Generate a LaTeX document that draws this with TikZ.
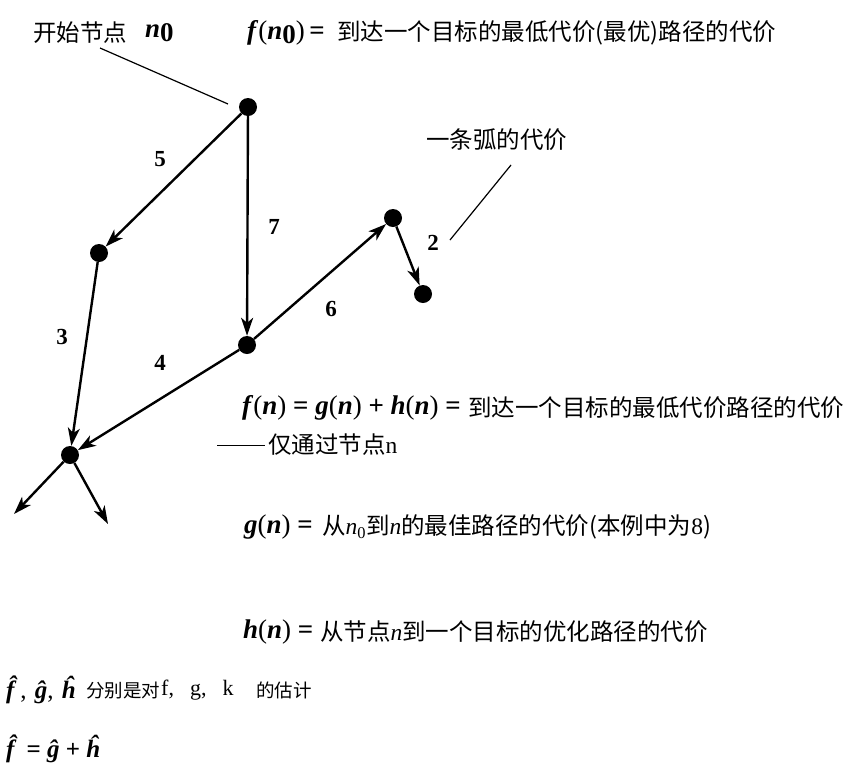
\documentclass[tikz,border=0pt]{standalone}
\usepackage{fontspec}
\setmainfont{Liberation Serif}
\newfontfamily\cjk{Noto Sans CJK SC}
\usetikzlibrary{arrows.meta}
\newcommand{\mi}[1]{\textbf{\textit{#1}}}
\tikzset{
  dot/.style={circle,fill=black,inner sep=0pt,minimum size=18pt},
  edge/.style={line width=2.4pt,-{Stealth[length=18pt,width=12pt,inset=5pt]}},
  plain/.style={line width=1.2pt},
  txt/.style={anchor=west,inner sep=0pt,font=\fontsize{23.5}{26}\selectfont\cjk},
  small/.style={anchor=west,inner sep=0pt,font=\fontsize{18.5}{20}\selectfont\cjk},
  mth/.style={anchor=west,inner sep=0pt,font=\fontsize{27}{28}\selectfont\rmfamily},
  num/.style={inner sep=0pt,font=\fontsize{23}{24}\selectfont\bfseries}
}
\begin{document}
\begin{tikzpicture}[x=1pt,y=-1pt]
\useasboundingbox[fill=white] (0,0) rectangle (862,769);
% nodes
\node[dot] (n0) at (248,107) {};
\node[dot] (a) at (99,253) {};
\node[dot] (b) at (247,345) {};
\node[dot] (c) at (393,218) {};
\node[dot] (d) at (423,294) {};
\node[dot] (n) at (70,455) {};
\coordinate (e1) at (14,514);
\coordinate (e2) at (108,524);
% edges
\draw[edge] (n0) -- (a);
\draw[edge] (n0) -- (b);
\draw[edge] (a) -- (n);
\draw[edge] (b) -- (n);
\draw[edge] (b) -- (c);
\draw[edge] (c) -- (d);
\draw[edge] (n) -- (e1);
\draw[edge] (n) -- (e2);
% edge labels
\node[num] (l5) at (160,159) {5};
\node[num] (l7) at (274,227) {7};
\node[num] (l3) at (62,337) {3};
\node[num] (l4) at (160,363) {4};
\node[num] (l6) at (331,309) {6};
\node[num] (l2) at (433,243) {2};
% start node label
\node[txt] (start) at (33,33) {开始节点};
\node[mth] (n0lab) at (145,33) {\mi{n}\raisebox{-4pt}{\textbf{0}}};
\coordinate (p1) at (100,48);
\coordinate (p2) at (228,104);
\draw[plain] (p1) -- (p2);
% top formula
\node[mth] (fn0m) at (247,33) {\mi{f}(\mi{n}\raisebox{-4pt}{\textbf{0}})\,\textbf{=}};
\node[txt] (fn0t) at (337,33) {到达一个目标的最低代价(最优)路径的代价};
% arc cost
\node[txt] (arc) at (426,140) {一条弧的代价};
\coordinate (q1) at (511,165);
\coordinate (q2) at (450,240);
\draw[plain] (q1) -- (q2);
% f(n)
\node[mth] (fnm) at (242,408) {\mi{f}(\mi{n}) \textbf{=} \mi{g}(\mi{n}) \textbf{+} \mi{h}(\mi{n}) \textbf{=}};
\node[txt] (fnt) at (468,408) {到达一个目标的最低代价路径的代价};
\coordinate (r1) at (217,445);
\coordinate (r2) at (265,445);
\draw[line width=1pt] (r1) -- (r2);
\node[txt] (only) at (268,445) {仅通过节点\rmfamily n};
% g(n)
\node[mth] (gnm) at (244,527) {\mi{g}(\mi{n}) \textbf{=}};
\node[txt] (gnt) at (322,527) {从\rmfamily\textit{n}\textsubscript{0}\cjk 到\rmfamily\textit{n}\cjk 的最佳路径的代价(本例中为\rmfamily 8\cjk )};
% h(n)
\node[mth] (hnm) at (243,632) {\mi{h}(\mi{n}) \textbf{=}};
\node[txt] (hnt) at (320,632) {从节点\rmfamily\textit{n}\cjk 到一个目标的优化路径的代价};
% estimates
\node[mth] (estm) at (6,690) {\fontsize{25}{26}\selectfont\mi{\^{f}},\,\,\mi{\^{g}},\,\,\mi{\^{h}}};
\node[small] (estt1) at (86,690) {分别是对};
\node[mth] (estt2) at (161,690) {\fontsize{22}{24}\selectfont f,\hspace{16pt}g,\hspace{16pt}k};
\node[small] (estt3) at (256,690) {的估计};
\node[mth] (eq) at (6,749) {\fontsize{25}{26}\selectfont\mi{\^{f}} \textbf{=} \mi{\^{g}} \textbf{+} \mi{\^{h}}};
\end{tikzpicture}
\end{document}
